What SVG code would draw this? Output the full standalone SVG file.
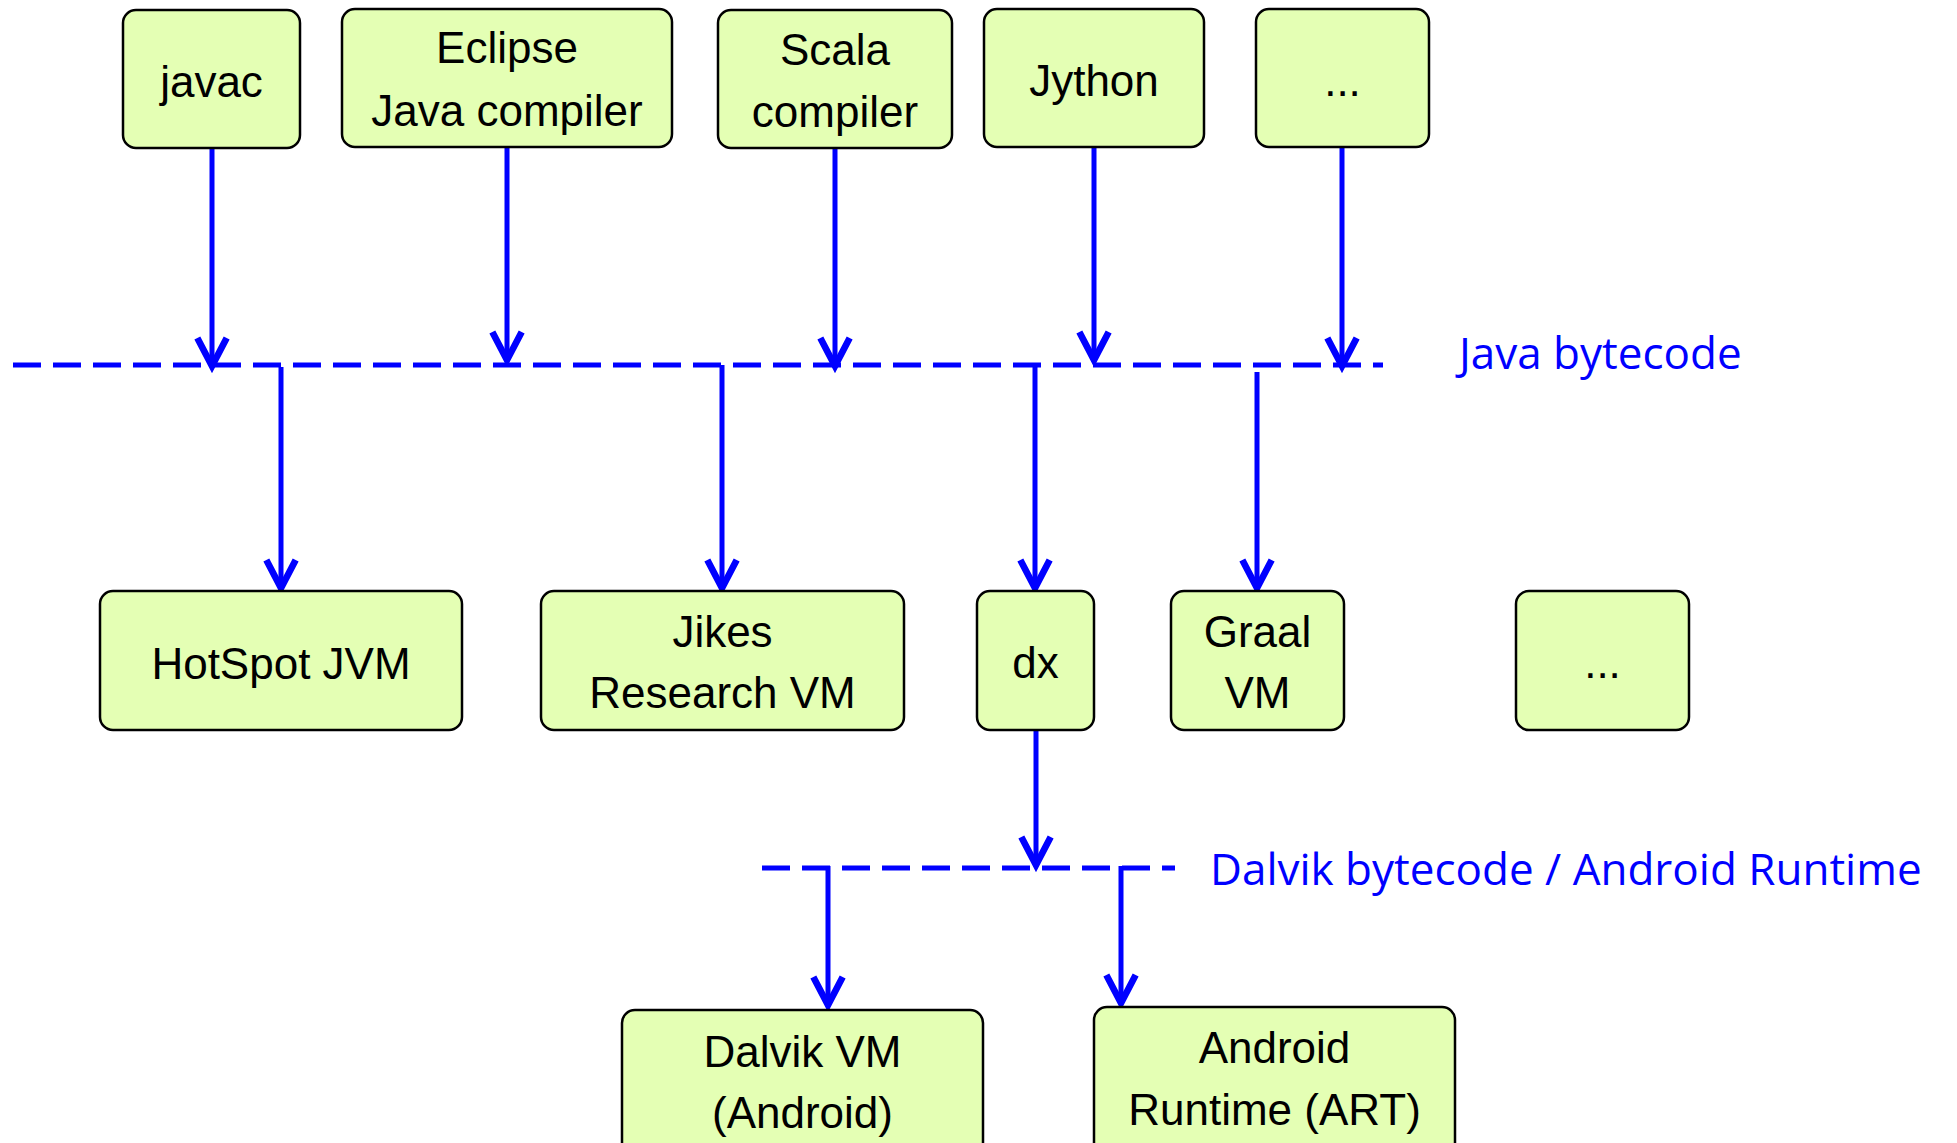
<svg xmlns="http://www.w3.org/2000/svg" width="1957" height="1143" viewBox="0 0 1957 1143">
<style>
.box{fill:#E4FFB4;stroke:#000;stroke-width:2.5}
.lbl{font-family:"Liberation Sans",Arial,sans-serif;font-size:44px;fill:#000;text-anchor:middle}
.blue{font-family:"Open Sans","Noto Sans",sans-serif;font-size:44px;fill:#0000FF}
.conn{stroke:#0000FF;stroke-width:5;fill:none}
.dash{stroke:#0000FF;stroke-width:5;fill:none;stroke-dasharray:28 12}
</style>
<defs>
<marker id="arr" markerUnits="userSpaceOnUse" orient="auto" refX="0" refY="0" markerWidth="40" markerHeight="40" viewBox="-25 -15 30 30" overflow="visible">
<path d="M-21,-11 L0,0 L-21,11" fill="none" stroke="#0000FF" stroke-width="5" stroke-linejoin="miter"/>
</marker>
</defs>
<rect width="1957" height="1143" fill="#fff"/>
<g id="connectors">
<line class="dash" x1="13" y1="365" x2="1383" y2="365"/>
<line class="dash" x1="762" y1="868" x2="1175" y2="868"/>
<line class="conn" x1="212" y1="148" x2="212" y2="366" marker-end="url(#arr)"/>
<line class="conn" x1="507" y1="147" x2="507" y2="360" marker-end="url(#arr)"/>
<line class="conn" x1="835" y1="148" x2="835" y2="366" marker-end="url(#arr)"/>
<line class="conn" x1="1094" y1="147" x2="1094" y2="360" marker-end="url(#arr)"/>
<line class="conn" x1="1342" y1="147" x2="1342" y2="366" marker-end="url(#arr)"/>
<line class="conn" x1="281" y1="367" x2="281" y2="588" marker-end="url(#arr)"/>
<line class="conn" x1="722" y1="365" x2="722" y2="588" marker-end="url(#arr)"/>
<line class="conn" x1="1035" y1="365" x2="1035" y2="588" marker-end="url(#arr)"/>
<line class="conn" x1="1257" y1="372" x2="1257" y2="588" marker-end="url(#arr)"/>
<line class="conn" x1="1036" y1="730" x2="1036" y2="865" marker-end="url(#arr)"/>
<line class="conn" x1="828" y1="866" x2="828" y2="1005" marker-end="url(#arr)"/>
<line class="conn" x1="1121" y1="866" x2="1121" y2="1003" marker-end="url(#arr)"/>
</g>
<g id="javac"><rect class="box" x="123" y="10" width="177" height="138" rx="13"/><text class="lbl" x="211.5" y="97">javac</text></g>
<g id="eclipse"><rect class="box" x="342" y="9" width="330" height="138" rx="13"/><text class="lbl" x="507" y="63">Eclipse</text><text class="lbl" x="507" y="126">Java compiler</text></g>
<g id="scala"><rect class="box" x="718" y="10" width="234" height="138" rx="13"/><text class="lbl" x="835" y="65">Scala</text><text class="lbl" x="835" y="127">compiler</text></g>
<g id="jython"><rect class="box" x="984" y="9" width="220" height="138" rx="13"/><text class="lbl" x="1094" y="96">Jython</text></g>
<g id="more-compilers"><rect class="box" x="1256" y="9" width="173" height="138" rx="13"/><text class="lbl" x="1342.5" y="96">...</text></g>
<g id="hotspot"><rect class="box" x="100" y="591" width="362" height="139" rx="13"/><text class="lbl" x="281" y="679">HotSpot JVM</text></g>
<g id="jikes"><rect class="box" x="541" y="591" width="363" height="139" rx="13"/><text class="lbl" x="722.5" y="647">Jikes</text><text class="lbl" x="722.5" y="708">Research VM</text></g>
<g id="dx"><rect class="box" x="977" y="591" width="117" height="139" rx="13"/><text class="lbl" x="1035.5" y="678">dx</text></g>
<g id="graal"><rect class="box" x="1171" y="591" width="173" height="139" rx="13"/><text class="lbl" x="1257.5" y="647">Graal</text><text class="lbl" x="1257.5" y="708">VM</text></g>
<g id="more-vms"><rect class="box" x="1516" y="591" width="173" height="139" rx="13"/><text class="lbl" x="1602.5" y="678">...</text></g>
<g id="dalvik-vm"><rect class="box" x="622" y="1010" width="361" height="160" rx="13"/><text class="lbl" x="802.5" y="1067">Dalvik VM</text><text class="lbl" x="802.5" y="1128">(Android)</text></g>
<g id="art"><rect class="box" x="1094" y="1007" width="361" height="160" rx="13"/><text class="lbl" x="1274.5" y="1063">Android</text><text class="lbl" x="1274.5" y="1125">Runtime (ART)</text></g>
<g id="labels">
<text class="blue" x="1459" y="369">Java bytecode</text>
<text class="blue" x="1210" y="885">Dalvik bytecode / Android Runtime</text>
</g>
</svg>
